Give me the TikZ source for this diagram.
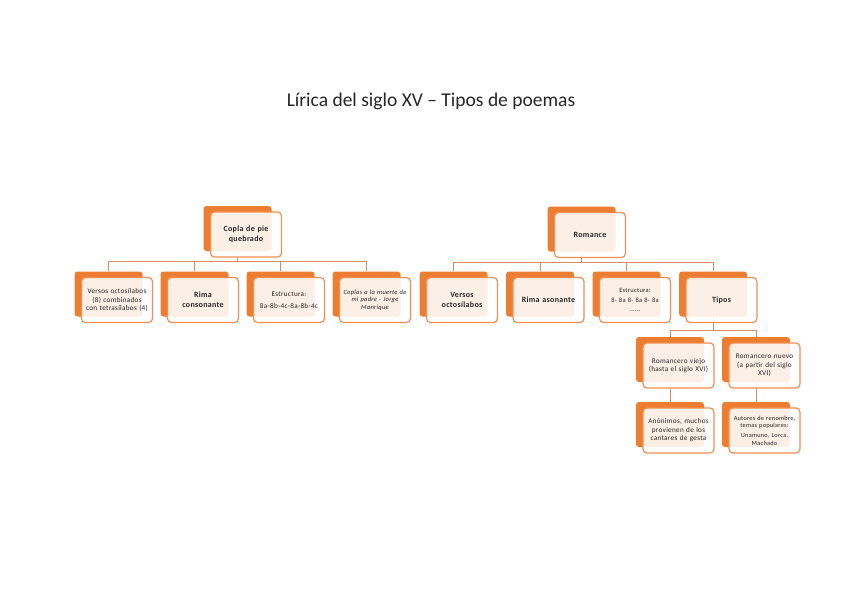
\documentclass[tikz,border=0pt]{standalone}
\usepackage{fontspec}
\setmainfont{Carlito}
\usetikzlibrary{positioning, calc}
\definecolor{naranja}{RGB}{237,125,49}
\definecolor{borde}{RGB}{243,142,82}
\definecolor{linea}{RGB}{214,140,98}
\newcommand{\letra}[2]{\fontsize{#1}{#2}\selectfont\addfontfeatures{LetterSpace=4}}

\begin{document}
\begin{tikzpicture}[x=1pt, y=-1pt,
    fondo/.style={fill=naranja, rounded corners=3pt, minimum width=68pt, minimum height=45pt, inner sep=0pt},
    caja/.style={draw=borde, line width=1.2pt, fill=white, fill opacity=0.88, text opacity=1,
        rounded corners=4pt, minimum width=71pt, minimum height=45pt, text width=69pt,
        align=center, inner sep=0.5pt, text=black!85, font=\letra{7.2}{8.6}},
    negrita/.style={caja, font=\letra{8}{9.6}\bfseries},
    conector/.style={draw=linea, line width=1pt}]
    \useasboundingbox (0,0) rectangle (848,599);

    % título
    \node[font=\fontsize{19.5}{23}\selectfont, text=black!85] (titulo) at (431,101) {Lírica del siglo XV – Tipos de poemas};

    % fondos naranjas
    \foreach \n/\x/\y in {copla/237.5/228.5, versos/108.5/294, rimac/194.5/294, estrc/280.5/294, coplas/366.5/294,
        romance/581.5/229, versosr/453.5/294, rimaa/540/294, estrr/626.5/294, tipos/713/294,
        viejo/670/359.5, nuevo/756/359.5, anonimos/670/424.5, autores/756/424.5} {
        \node[fondo] (\n-f) at (\x,\y) {};
    }

    % conectores
    \foreach \h in {versos, rimac, estrc, coplas} {
        \draw[conector] (copla-f.south) -- ++(0,10.5) -| (\h-f.north);
    }
    \foreach \h in {versosr, rimaa, estrr, tipos} {
        \draw[conector] (romance-f.south) -- ++(0,10.5) -| (\h-f.north);
    }
    \foreach \h in {viejo, nuevo} {
        \draw[conector] (tipos-f.south) -- ++(0,13.5) -| (\h-f.north);
    }
    \draw[conector] (viejo-f.south) -- (anonimos-f.north);
    \draw[conector] (nuevo-f.south) -- (autores-f.north);

    % copla de pie quebrado
    \node[negrita] (copla) at ($(copla-f)+(8.5,6)$) {Copla de pie\\quebrado};
    \node[caja] (versos) at ($(versos-f)+(8.5,6)$) {Versos octosílabos\\(8) combinados\\con tetrasílabos (4)};
    \node[negrita] (rimac) at ($(rimac-f)+(8.5,6)$) {Rima\\consonante};
    \node[caja] (estrc) at ($(estrc-f)+(8.5,6)$) {Estructura:\\[3pt]8a-8b-4c-8a-8b-4c};
    \node[caja, font=\letra{6.5}{7.6}\itshape] (coplas) at ($(coplas-f)+(8.5,6)$) {Coplas a la muerte de\\mi padre - Jorge\\Manrique};

    % romance
    \node[negrita] (romance) at ($(romance-f)+(8.5,6)$) {Romance};
    \node[negrita] (versosr) at ($(versosr-f)+(8.5,6)$) {Versos\\octosílabos};
    \node[negrita] (rimaa) at ($(rimaa-f)+(8.5,6)$) {Rima asonante};
    \node[caja, font=\letra{6.5}{8}] (estrr) at ($(estrr-f)+(8.5,6)$) {Estructura:\\[2pt]8- 8a 8- 8a 8- 8a\\[1pt]......};
    \node[negrita] (tipos) at ($(tipos-f)+(8.5,6)$) {Tipos};

    % tipos de romancero
    \node[caja] (viejo) at ($(viejo-f)+(8.5,6)$) {Romancero viejo\\(hasta el siglo XVI)};
    \node[caja] (nuevo) at ($(nuevo-f)+(8.5,6)$) {Romancero nuevo\\(a partir del siglo\\XVI)};
    \node[caja] (anonimos) at ($(anonimos-f)+(8.5,6)$) {Anónimos, muchos\\provienen de los\\cantares de gesta};
    \node[caja, font=\letra{6.3}{7.4}] (autores) at ($(autores-f)+(8.5,6)$) {Autores de renombre,\\temas populares:\\[3pt]Unamuno, Lorca,\\Machado};
\end{tikzpicture}
\end{document}
